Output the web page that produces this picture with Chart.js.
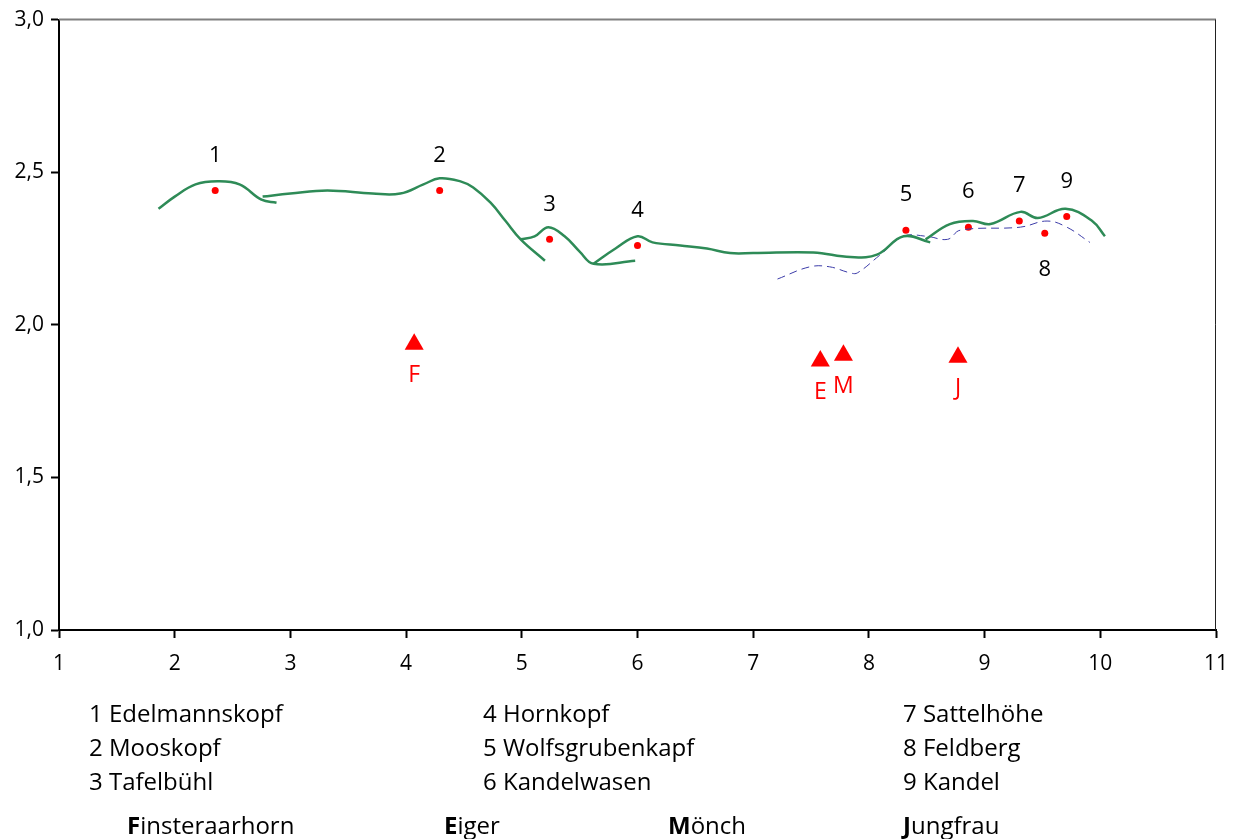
<!DOCTYPE html>
<html>
<head>
<meta charset="utf-8">
<script src="https://cdn.jsdelivr.net/npm/chart.js@4"></script>
<style>
  body { margin: 0; background: #fff; }
  #wrap { position: relative; width: 1234px; height: 839px; }
  .leg { position: absolute; font-family: "Open Sans", sans-serif; font-size: 24px; color: #000; white-space: nowrap; line-height: 1; }
</style>
</head>
<body>
<div id="wrap">
  <canvas id="profile" width="1234" height="839"></canvas>
  <div class="leg" style="left:89px;top:701px">1 Edelmannskopf</div>
  <div class="leg" style="left:89px;top:735px">2 Mooskopf</div>
  <div class="leg" style="left:89px;top:769px">3 Tafelbühl</div>
  <div class="leg" style="left:483px;top:701px">4 Hornkopf</div>
  <div class="leg" style="left:483px;top:735px">5 Wolfsgrubenkapf</div>
  <div class="leg" style="left:483px;top:769px">6 Kandelwasen</div>
  <div class="leg" style="left:903px;top:701px">7 Sattelhöhe</div>
  <div class="leg" style="left:903px;top:735px">8 Feldberg</div>
  <div class="leg" style="left:903px;top:769px">9 Kandel</div>
  <div class="leg" style="left:127px;top:813px"><b>F</b>insteraarhorn</div>
  <div class="leg" style="left:444px;top:813px"><b>E</b>iger</div>
  <div class="leg" style="left:668px;top:813px"><b>M</b>önch</div>
  <div class="leg" style="left:903px;top:813px"><b>J</b>ungfrau</div>
</div>
<script>
// ridge lines (green), several overlapping pieces
const ridgeA = [[1.86, 2.38], [2.00, 2.42], [2.18, 2.46], [2.37, 2.47], [2.56, 2.46], [2.75, 2.41], [2.88, 2.40]];
const ridgeB = [[2.76, 2.42], [3.00, 2.43], [3.32, 2.44], [3.71, 2.43], [3.95, 2.43], [4.15, 2.46], [4.29, 2.48],
                [4.47, 2.47], [4.58, 2.45], [4.73, 2.40], [4.86, 2.34], [4.99, 2.28], [5.20, 2.21]];
const ridgeC = [[4.99, 2.28], [5.11, 2.29], [5.23, 2.32], [5.37, 2.29], [5.50, 2.24], [5.62, 2.20], [5.98, 2.21]];
const ridgeD = [[5.62, 2.20], [5.81, 2.25], [6.00, 2.29], [6.13, 2.27], [6.37, 2.26], [6.60, 2.25], [6.80, 2.235],
                [7.00, 2.235], [7.52, 2.237], [7.84, 2.222], [8.07, 2.23], [8.30, 2.29], [8.53, 2.27]];
const ridgeE = [[8.49, 2.28], [8.70, 2.33], [8.90, 2.34], [9.05, 2.33], [9.31, 2.37], [9.46, 2.35], [9.70, 2.38],
                [9.93, 2.34], [10.04, 2.29]];
// dashed blue line
const dashedLine = [[7.21, 2.15], [7.49, 2.19], [7.66, 2.19], [7.84, 2.17], [7.90, 2.17], [8.10, 2.23], [8.30, 2.29],
                    [8.50, 2.29], [8.68, 2.28], [8.79, 2.31], [9.31, 2.32], [9.54, 2.34], [9.71, 2.32], [9.91, 2.27]];

// summits (red dots)
const peakLabels = ['1', '2', '3', '4', '5', '6', '7', '8', '9'];
const peakX = [2.35, 4.29, 5.24, 6.00, 8.32, 8.86, 9.30, 9.52, 9.71];
const peakY = [2.44, 2.44, 2.28, 2.26, 2.31, 2.32, 2.34, 2.30, 2.355];
const peakBelow = [false, false, false, false, false, false, false, true, false];

// alpine peaks (red triangles)
const alpsLabels = ['F', 'E', 'M', 'J'];
const alpsX = [4.07, 7.58, 7.78, 8.77];
const alpsY = [1.936, 1.881, 1.900, 1.894];

const xTicks = [1, 2, 3, 4, 5, 6, 7, 8, 9, 10, 11];
const yTicks = [1.0, 1.5, 2.0, 2.5, 3.0];

const toPts = arr => arr.map(p => ({ x: p[0], y: p[1] }));
const green = '#2E8B57';

function ridge(arr) {
  return {
    data: toPts(arr), showLine: true, borderColor: green, borderWidth: 2.5,
    pointRadius: 0, tension: 0.4, fill: false
  };
}

const labelPlugin = {
  id: 'labels',
  afterDatasetsDraw(chart) {
    const ctx = chart.ctx;
    const xs = chart.scales.x, ys = chart.scales.y;
    ctx.save();
    ctx.textAlign = 'center';
    ctx.textBaseline = 'middle';
    ctx.font = '22px "Open Sans", sans-serif';
    ctx.fillStyle = '#000';
    peakLabels.forEach((t, i) => {
      const px = xs.getPixelForValue(peakX[i]);
      const py = ys.getPixelForValue(peakY[i]);
      ctx.fillText(t, px, peakBelow[i] ? py + 36 : py - 35);
    });
    ctx.fillStyle = '#ff0000';
    ctx.font = '23px "Open Sans", sans-serif';
    alpsLabels.forEach((t, i) => {
      const px = xs.getPixelForValue(alpsX[i]);
      const py = ys.getPixelForValue(alpsY[i]);
      ctx.fillText(t, px, py + 31);
    });
    ctx.restore();
  },
  beforeDatasetsDraw(chart) {
    const { ctx, chartArea: a } = chart;
    ctx.save();
    ctx.strokeStyle = '#808080';
    ctx.lineWidth = 2;
    ctx.beginPath(); ctx.moveTo(a.left, a.top); ctx.lineTo(a.right, a.top); ctx.stroke();
    ctx.strokeStyle = '#222';
    ctx.lineWidth = 1;
    ctx.beginPath(); ctx.moveTo(a.right - 0.5, a.top); ctx.lineTo(a.right - 0.5, a.bottom); ctx.stroke();
    ctx.restore();
  }
};

new Chart(document.getElementById('profile'), {
  type: 'scatter',
  data: {
    datasets: [
      ridge(ridgeA), ridge(ridgeB), ridge(ridgeC), ridge(ridgeD), ridge(ridgeE),
      {
        data: toPts(dashedLine), showLine: true, borderColor: '#3b3ba8', borderWidth: 1,
        borderDash: [8, 5], pointRadius: 0, tension: 0.4
      },
      {
        data: peakX.map((x, i) => ({ x, y: peakY[i] })), pointRadius: 3.5,
        backgroundColor: '#ff0000', borderColor: '#ff0000', borderWidth: 0
      },
      {
        data: alpsX.map((x, i) => ({ x, y: alpsY[i] })), pointStyle: 'triangle', pointRadius: 11,
        backgroundColor: '#ff0000', borderColor: '#ff0000', borderWidth: 0
      }
    ]
  },
  options: {
    responsive: false,
    animation: false,
    devicePixelRatio: 1,
    layout: { padding: { left: 0, right: 18, top: 19, bottom: 159 } },
    plugins: { legend: { display: false }, tooltip: { enabled: false } },
    scales: {
      x: {
        type: 'linear', min: 1, max: 11,
        afterFit: s => { s.height = 50; s.paddingLeft = 0; s.paddingRight = 0; },
        afterBuildTicks: s => { s.ticks = xTicks.map(v => ({ value: v })); },
        grid: { drawOnChartArea: false, drawTicks: true, tickLength: 8, tickColor: '#000', tickWidth: 2 },
        border: { color: '#000', width: 2 },
        ticks: { color: '#000', font: { family: '"Open Sans", sans-serif', size: 21 }, padding: 13, maxRotation: 0 }
      },
      y: {
        type: 'linear', min: 1, max: 3,
        afterFit: s => { s.width = 59; },
        afterBuildTicks: s => { s.ticks = yTicks.map(v => ({ value: v })); },
        grid: { drawOnChartArea: false, drawTicks: true, tickLength: 8, tickColor: '#000', tickWidth: 2 },
        border: { color: '#000', width: 2 },
        ticks: {
          color: '#000', font: { family: '"Open Sans", sans-serif', size: 21 }, padding: 7,
          callback: v => v.toFixed(1).replace('.', ',')
        }
      }
    }
  },
  plugins: [labelPlugin]
});
</script>
</body>
</html>
